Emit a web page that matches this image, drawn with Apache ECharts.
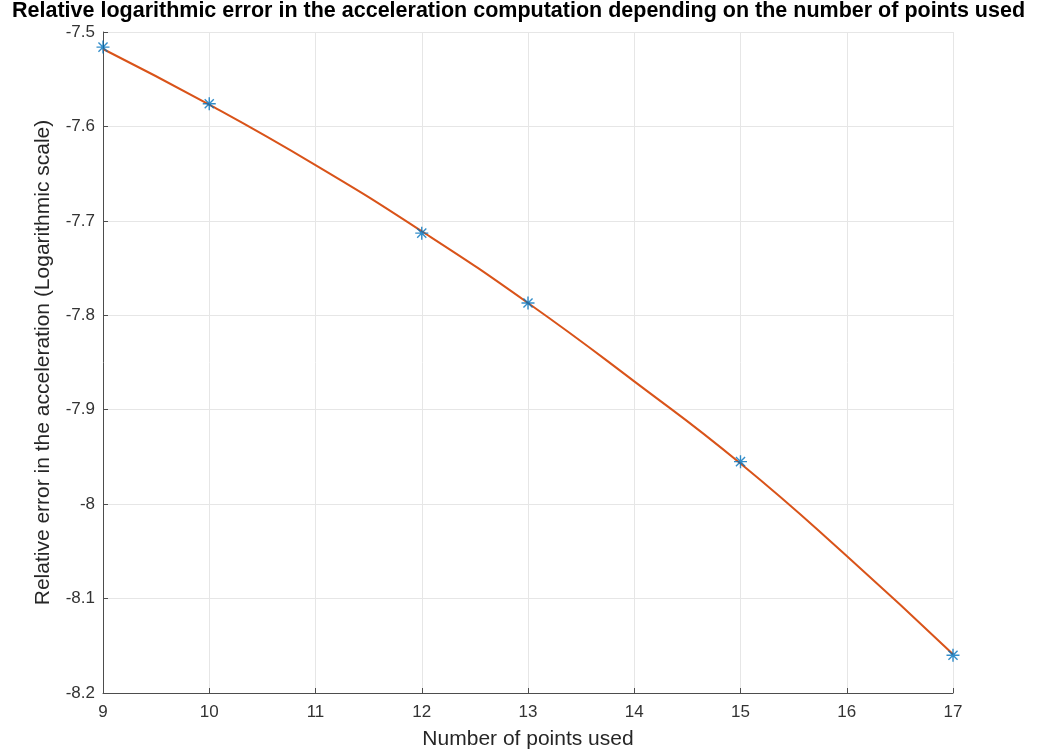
<!DOCTYPE html>
<html>
<head>
<meta charset="utf-8">
<script src="https://cdn.jsdelivr.net/npm/echarts@6/dist/echarts.min.js"></script>
<style>
  html, body { margin: 0; padding: 0; background: #fff; }
  #chart { width: 1057px; height: 755px; }
</style>
</head>
<body>
<div id="chart"></div>
<script>
// measured points (asterisks)
const pointX = [9, 10, 12, 13, 15, 17]
const pointY = [-7.516, -7.576, -7.713, -7.787, -7.955, -8.160]

// fitted curve at each integer x
const curveX = [9, 10, 11, 12, 13, 14, 15, 16, 17]
const curveY = [-7.518, -7.577, -7.641, -7.711, -7.787, -7.870, -7.957, -8.055, -8.159]

const xTicks = [9, 10, 11, 12, 13, 14, 15, 16, 17]
const yTicks = ['-8.2', '-8.1', '-8', '-7.9', '-7.8', '-7.7', '-7.6', '-7.5']

const font = 'Liberation Sans, Arial, sans-serif'
const asterisk = 'path://M0,-6L0,6M-6,0L6,0M-4.2,-4.2L4.2,4.2M-4.2,4.2L4.2,-4.2'

const chart = echarts.init(document.getElementById('chart'))

chart.setOption({
  animation: false,
  backgroundColor: '#fff',
  title: {
    text: 'Relative logarithmic error in the acceleration computation depending on the number of points used',
    left: 12,
    top: 0,
    padding: 0,
    textStyle: { fontFamily: font, fontSize: 21.5, fontWeight: 'bold', color: '#000' }
  },
  grid: { left: 103, right: 104, top: 32, bottom: 62 },
  xAxis: {
    type: 'value',
    min: xTicks[0],
    max: xTicks[xTicks.length - 1],
    interval: 1,
    name: 'Number of points used',
    nameLocation: 'middle',
    nameGap: 36,
    nameTextStyle: { fontFamily: font, fontSize: 21, color: '#262626' },
    axisLine: { lineStyle: { color: '#4d4d4d', width: 1 } },
    axisTick: { inside: true, length: 5, lineStyle: { color: '#4d4d4d' } },
    axisLabel: { fontFamily: font, fontSize: 17, color: '#333', margin: 11 },
    splitLine: { show: true, lineStyle: { color: '#e6e6e6', width: 1 } }
  },
  yAxis: {
    type: 'value',
    min: -8.2,
    max: -7.5,
    interval: 0.1,
    name: 'Relative error in the acceleration (Logarithmic scale)',
    nameLocation: 'middle',
    nameGap: 49,
    nameTextStyle: { fontFamily: font, fontSize: 21, color: '#262626' },
    axisLine: { show: true, lineStyle: { color: '#4d4d4d', width: 1 } },
    axisTick: { show: true, inside: true, length: 5, lineStyle: { color: '#4d4d4d' } },
    axisLabel: {
      fontFamily: font, fontSize: 17, color: '#333', margin: 8,
      formatter: (v) => {
        const idx = Math.round((v + 8.2) * 10)
        return yTicks[idx] !== undefined ? yTicks[idx] : ''
      }
    },
    splitLine: { show: true, lineStyle: { color: '#e6e6e6', width: 1 } }
  },
  series: [
    {
      type: 'line',
      data: curveX.map((x, i) => [x, curveY[i]]),
      smooth: true,
      showSymbol: false,
      lineStyle: { color: '#D95319', width: 2 },
      z: 2
    },
    {
      type: 'scatter',
      data: pointX.map((x, i) => [x, pointY[i]]),
      symbol: asterisk,
      symbolSize: 13,
      itemStyle: { color: 'rgba(0,0,0,0)', borderColor: '#0072BD', borderWidth: 1.4 },
      z: 3
    }
  ]
})
</script>
</body>
</html>
